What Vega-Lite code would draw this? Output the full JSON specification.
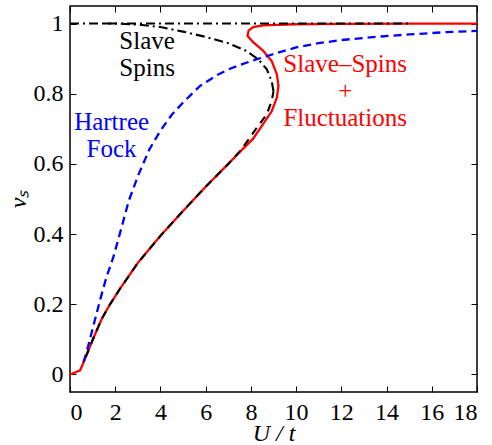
{
  "$schema": "https://vega.github.io/schema/vega-lite/v6.json",
  "width": 407,
  "height": 386,
  "autosize": {"type": "none"},
  "padding": {"left": 70, "top": 6, "right": 15, "bottom": 53},
  "config": {
    "font": "Liberation Serif, Times New Roman, serif",
    "view": {"stroke": "black", "strokeWidth": 1.5},
    "axis": {
      "labelFont": "Liberation Serif, Times New Roman, serif",
      "titleFont": "Liberation Serif, Times New Roman, serif",
      "labelFontSize": 24,
      "titleFontSize": 24,
      "titleFontWeight": "normal",
      "labelColor": "black",
      "titleColor": "black",
      "tickColor": "black",
      "tickWidth": 1,
      "tickSize": -6,
      "domain": false,
      "grid": false
    }
  },
  "datasets": {
    "curves": [
      {"s": "SSF", "i": 0, "x": 0, "y": 0},
      {"s": "SSF", "i": 1, "x": 0.45, "y": 0.012},
      {"s": "SSF", "i": 2, "x": 0.7, "y": 0.05},
      {"s": "SSF", "i": 3, "x": 1.0, "y": 0.098},
      {"s": "SSF", "i": 4, "x": 1.4, "y": 0.158},
      {"s": "SSF", "i": 5, "x": 1.77, "y": 0.2},
      {"s": "SSF", "i": 6, "x": 2.2, "y": 0.243},
      {"s": "SSF", "i": 7, "x": 3.0, "y": 0.318},
      {"s": "SSF", "i": 8, "x": 4.0, "y": 0.395},
      {"s": "SSF", "i": 9, "x": 5.0, "y": 0.466},
      {"s": "SSF", "i": 10, "x": 6.0, "y": 0.535},
      {"s": "SSF", "i": 11, "x": 7.0, "y": 0.6},
      {"s": "SSF", "i": 12, "x": 7.6, "y": 0.64},
      {"s": "SSF", "i": 13, "x": 8.1, "y": 0.672},
      {"s": "SSF", "i": 14, "x": 8.5, "y": 0.71},
      {"s": "SSF", "i": 15, "x": 8.92, "y": 0.75},
      {"s": "SSF", "i": 16, "x": 9.15, "y": 0.789},
      {"s": "SSF", "i": 17, "x": 9.22, "y": 0.822},
      {"s": "SSF", "i": 18, "x": 9.15, "y": 0.855},
      {"s": "SSF", "i": 19, "x": 8.92, "y": 0.893},
      {"s": "SSF", "i": 20, "x": 8.55, "y": 0.922},
      {"s": "SSF", "i": 21, "x": 8.11, "y": 0.946},
      {"s": "SSF", "i": 22, "x": 7.85, "y": 0.965},
      {"s": "SSF", "i": 23, "x": 7.9, "y": 0.98},
      {"s": "SSF", "i": 24, "x": 8.1, "y": 0.99},
      {"s": "SSF", "i": 25, "x": 8.55, "y": 0.995},
      {"s": "SSF", "i": 26, "x": 9.9, "y": 0.998},
      {"s": "SSF", "i": 27, "x": 12, "y": 0.999},
      {"s": "SSF", "i": 28, "x": 15, "y": 1.0},
      {"s": "SSF", "i": 29, "x": 18, "y": 1.0},

      {"s": "HF", "i": 0, "x": 0.6, "y": 0.035},
      {"s": "HF", "i": 1, "x": 0.8, "y": 0.08},
      {"s": "HF", "i": 2, "x": 1.0, "y": 0.13},
      {"s": "HF", "i": 3, "x": 1.33, "y": 0.212},
      {"s": "HF", "i": 4, "x": 1.6, "y": 0.275},
      {"s": "HF", "i": 5, "x": 1.92, "y": 0.335},
      {"s": "HF", "i": 6, "x": 2.2, "y": 0.4},
      {"s": "HF", "i": 7, "x": 2.6, "y": 0.495},
      {"s": "HF", "i": 8, "x": 3.0, "y": 0.565},
      {"s": "HF", "i": 9, "x": 3.5, "y": 0.64},
      {"s": "HF", "i": 10, "x": 4.0, "y": 0.695},
      {"s": "HF", "i": 11, "x": 4.5, "y": 0.74},
      {"s": "HF", "i": 12, "x": 5.0, "y": 0.775},
      {"s": "HF", "i": 13, "x": 5.75, "y": 0.822},
      {"s": "HF", "i": 14, "x": 6.5, "y": 0.853},
      {"s": "HF", "i": 15, "x": 7.1, "y": 0.872},
      {"s": "HF", "i": 16, "x": 8.0, "y": 0.893},
      {"s": "HF", "i": 17, "x": 9.0, "y": 0.913},
      {"s": "HF", "i": 18, "x": 10.0, "y": 0.932},
      {"s": "HF", "i": 19, "x": 11.0, "y": 0.944},
      {"s": "HF", "i": 20, "x": 12.0, "y": 0.953},
      {"s": "HF", "i": 21, "x": 13.5, "y": 0.962},
      {"s": "HF", "i": 22, "x": 15.0, "y": 0.969},
      {"s": "HF", "i": 23, "x": 16.5, "y": 0.975},
      {"s": "HF", "i": 24, "x": 18.0, "y": 0.979},

      {"s": "SSlow", "i": 0, "x": 0.7, "y": 0.05},
      {"s": "SSlow", "i": 1, "x": 1.0, "y": 0.098},
      {"s": "SSlow", "i": 2, "x": 1.4, "y": 0.158},
      {"s": "SSlow", "i": 3, "x": 1.77, "y": 0.2},
      {"s": "SSlow", "i": 4, "x": 2.2, "y": 0.243},
      {"s": "SSlow", "i": 5, "x": 3.0, "y": 0.318},
      {"s": "SSlow", "i": 6, "x": 4.0, "y": 0.395},
      {"s": "SSlow", "i": 7, "x": 5.0, "y": 0.466},
      {"s": "SSlow", "i": 8, "x": 6.0, "y": 0.535},
      {"s": "SSlow", "i": 9, "x": 7.0, "y": 0.6},
      {"s": "SSlow", "i": 10, "x": 7.5, "y": 0.635},
      {"s": "SSlow", "i": 11, "x": 7.89, "y": 0.669},
      {"s": "SSlow", "i": 12, "x": 8.26, "y": 0.703},
      {"s": "SSlow", "i": 13, "x": 8.7, "y": 0.741},
      {"s": "SSlow", "i": 14, "x": 8.92, "y": 0.779},
      {"s": "SSlow", "i": 15, "x": 9.0, "y": 0.807},

      {"s": "SSup", "i": 0, "x": 9.0, "y": 0.807},
      {"s": "SSup", "i": 1, "x": 8.92, "y": 0.836},
      {"s": "SSup", "i": 2, "x": 8.7, "y": 0.87},
      {"s": "SSup", "i": 3, "x": 8.33, "y": 0.898},
      {"s": "SSup", "i": 4, "x": 7.8, "y": 0.922},
      {"s": "SSup", "i": 5, "x": 7.0, "y": 0.944},
      {"s": "SSup", "i": 6, "x": 6.0, "y": 0.962},
      {"s": "SSup", "i": 7, "x": 5.0, "y": 0.977},
      {"s": "SSup", "i": 8, "x": 4.0, "y": 0.99},
      {"s": "SSup", "i": 9, "x": 3.0, "y": 0.997},
      {"s": "SSup", "i": 10, "x": 2.0, "y": 1.0},
      {"s": "SSup", "i": 11, "x": 1.5, "y": 1.0},

      {"s": "SSmet", "i": 0, "x": 0, "y": 1.0},
      {"s": "SSmet", "i": 1, "x": 15, "y": 1.0}
    ],
    "labels": [
      {"series": "SS", "t": "Slave\nSpins", "x": 3.41, "y": 0.927},
      {"series": "HF", "t": "Hartree\nFock", "x": 1.84, "y": 0.698},
      {"series": "SSF", "t": "Slave–Spins\n+\nFluctuations", "x": 12.17, "y": 0.861}
    ]
  },
  "layer": [
    {
      "data": {"name": "curves"},
      "transform": [{"filter": "datum.s === 'SSF'"}],
      "mark": {"type": "line", "color": "#ff0000", "strokeWidth": 2.3},
      "encoding": {
        "x": {
          "field": "x", "type": "quantitative",
          "scale": {"domain": [0, 18], "nice": false, "zero": false},
          "axis": {
            "orient": "bottom",
            "values": [0, 2, 4, 6, 8, 10, 12, 14, 16, 18],
            "format": "~g",
            "title": "U / t",
            "titleFontStyle": "italic",
            "labelPadding": 14,
            "titlePadding": -3
          }
        },
        "y": {
          "field": "y", "type": "quantitative",
          "scale": {"domain": [-0.05, 1.05], "nice": false, "zero": false},
          "axis": {
            "orient": "left",
            "values": [0, 0.2, 0.4, 0.6, 0.8, 1],
            "format": "~g",
            "title": "νₛ",
            "titleFontStyle": "italic",
            "labelPadding": 13,
            "titlePadding": 3
          }
        },
        "order": {"field": "i", "type": "quantitative"}
      }
    },
    {
      "data": {"name": "curves"},
      "transform": [{"filter": "datum.s === 'HF'"}],
      "mark": {"type": "line", "color": "#0000ff", "strokeWidth": 2.3, "strokeDash": [8, 5]},
      "encoding": {
        "x": {"field": "x", "type": "quantitative", "axis": null},
        "y": {"field": "y", "type": "quantitative", "axis": null},
        "order": {"field": "i", "type": "quantitative"}
      }
    },
    {
      "data": {"name": "curves"},
      "transform": [{"filter": "datum.s === 'SSlow'"}],
      "mark": {"type": "line", "color": "#000000", "strokeWidth": 2.1, "strokeDash": [8, 6]},
      "encoding": {
        "x": {"field": "x", "type": "quantitative", "axis": null},
        "y": {"field": "y", "type": "quantitative", "axis": null},
        "order": {"field": "i", "type": "quantitative"}
      }
    },
    {
      "data": {"name": "curves"},
      "transform": [{"filter": "datum.s === 'SSup' || datum.s === 'SSmet'"}],
      "mark": {"type": "line", "color": "#000000", "strokeWidth": 2.1, "strokeDash": [9, 4, 2, 4]},
      "encoding": {
        "x": {"field": "x", "type": "quantitative", "axis": null},
        "y": {"field": "y", "type": "quantitative", "axis": null},
        "detail": {"field": "s", "type": "nominal"},
        "order": {"field": "i", "type": "quantitative"}
      }
    },
    {
      "data": {"name": "labels"},
      "mark": {"type": "text", "font": "Liberation Serif, Times New Roman, serif", "fontSize": 25, "align": "center", "baseline": "alphabetic", "lineBreak": "\n", "lineHeight": 27},
      "encoding": {
        "x": {"field": "x", "type": "quantitative", "axis": null},
        "y": {"field": "y", "type": "quantitative", "axis": null},
        "text": {"field": "t"},
        "color": {
          "field": "series", "type": "nominal",
          "scale": {"domain": ["SS", "HF", "SSF"], "range": ["#000000", "#0000ff", "#ff0000"]},
          "legend": null
        }
      }
    },
    {
      "data": {"name": "curves"},
      "transform": [{"filter": "datum.s === 'SSmet'"}],
      "mark": {"type": "line", "opacity": 0},
      "encoding": {
        "x": {
          "field": "x", "type": "quantitative",
          "axis": {"orient": "top", "values": [0, 2, 4, 6, 8, 10, 12, 14, 16, 18], "labels": false, "title": null}
        },
        "y": {
          "field": "y", "type": "quantitative",
          "axis": {"orient": "right", "values": [0, 0.2, 0.4, 0.6, 0.8, 1], "labels": false, "title": null}
        },
        "order": {"field": "i", "type": "quantitative"}
      }
    }
  ],
  "resolve": {"axis": {"x": "independent", "y": "independent"}}
}
